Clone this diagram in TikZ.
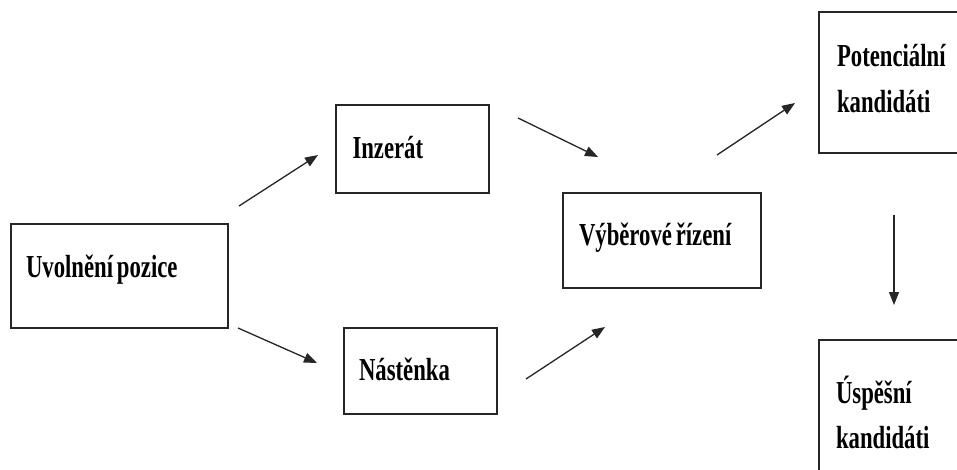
\documentclass[tikz,border=0pt]{standalone}
\usepackage{fontspec}
\setmainfont{Liberation Serif}[FakeStretch=0.71]
\usetikzlibrary{arrows.meta}

\tikzset{
  box/.style={draw=black!85, line width=1.4pt, inner sep=0pt, outer sep=0pt},
  lbl/.style={inner sep=0pt, outer sep=0pt, anchor=base west,
              font=\fontsize{32}{45}\selectfont\bfseries},
  arr/.style={line width=1.3pt, draw=black!85,
              -{Triangle[length=13pt,width=10pt]}},
}

\begin{document}
\begin{tikzpicture}[x=1pt,y=-1pt]
  \useasboundingbox (0,0) rectangle (957,470);
  \fill[white] (0,0) rectangle (957,470);
  \clip (0,0) rectangle (957,470);

  % boxes
  \node[box, minimum width=217pt, minimum height=104pt] (pos)  at (119.5,276) {};
  \node[box, minimum width=153pt, minimum height=88pt]  (inz)  at (412.5,149) {};
  \node[box, minimum width=153pt, minimum height=86pt]  (nas)  at (420.5,371) {};
  \node[box, minimum width=198pt, minimum height=95pt]  (vyb)  at (662,240.5) {};
  \node[box, minimum width=180pt, minimum height=141pt] (pot)  at (909,82.5) {};
  \node[box, minimum width=180pt, minimum height=160pt] (usp)  at (909,420) {};

  % labels
  \node[lbl] (tpos)  at (26,277)   {Uvolnění\hspace{0.12em}pozice};
  \node[lbl] (tinz)  at (352.5,158.5) {Inzerát};
  \node[lbl] (tnas)  at (359,380)  {Nástěnka};
  \node[lbl] (tvyb)  at (579,245)  {Výběrové\hspace{0.12em}řízení};
  \node[lbl] (tpot1) at (837,67)   {Potenciální};
  \node[lbl] (tpot2) at (837,112.5){kandidáti};
  \node[lbl] (tusp1) at (836,403)  {Úspěšní};
  \node[lbl] (tusp2) at (836,448)  {kandidáti};

  % connector end points
  \coordinate (a1s) at (239,206); \coordinate (a1e) at (318,155);
  \coordinate (a2s) at (238,328); \coordinate (a2e) at (317,363);
  \coordinate (a3s) at (518,118); \coordinate (a3e) at (598,157);
  \coordinate (a4s) at (526,379); \coordinate (a4e) at (605,327);
  \coordinate (a5s) at (717,155); \coordinate (a5e) at (795,103);
  \coordinate (a6s) at (894,215); \coordinate (a6e) at (894,305);

  % arrows
  \draw[arr] (a1s) -- (a1e);
  \draw[arr] (a2s) -- (a2e);
  \draw[arr] (a3s) -- (a3e);
  \draw[arr] (a4s) -- (a4e);
  \draw[arr] (a5s) -- (a5e);
  \draw[arr] (a6s) -- (a6e);
\end{tikzpicture}
\end{document}
